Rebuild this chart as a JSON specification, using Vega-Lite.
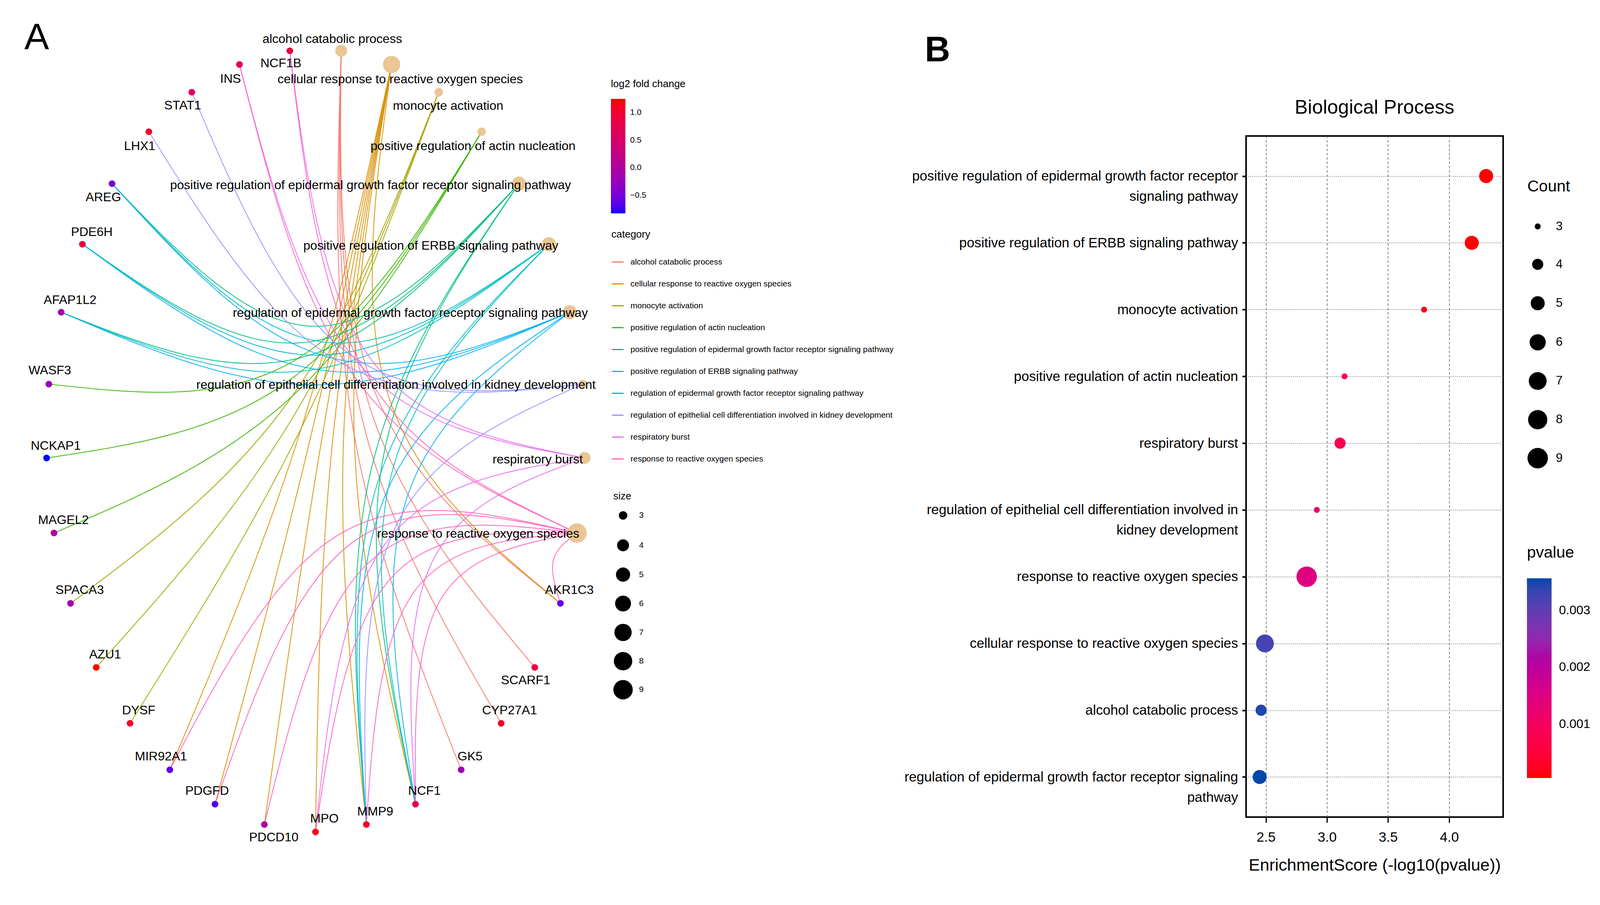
{
"$schema": "https://vega.github.io/schema/vega-lite/v6.json",
"width": 658,
"height": 1743,
"autosize": {"type": "none"},
"padding": {"left": 3190, "top": 348, "right": 268, "bottom": 225},
"background": "white",
"config": {
  "font": "Liberation Sans",
  "view": {"stroke": "black", "strokeWidth": 4},
  "legend": {"titleFontWeight": "normal", "titleColor": "black", "labelColor": "black", "labelLimit": 3000, "titleLimit": 3000, "labelOverlap": false},
  "axis": {"labelColor": "black", "titleColor": "black", "titleFontWeight": "normal"}
},
"datasets": {
  "cats": [
    {"code": "ALC", "name": "alcohol catabolic process", "x": 1386, "y": 130, "count": 4, "lx": 1350, "ly": 100},
    {"code": "CEL", "name": "cellular response to reactive oxygen species", "x": 1590, "y": 165, "count": 7, "lx": 1625, "ly": 203},
    {"code": "MON", "name": "monocyte activation", "x": 1781, "y": 236, "count": 3, "lx": 1819, "ly": 271},
    {"code": "ACT", "name": "positive regulation of actin nucleation", "x": 1955, "y": 337, "count": 3, "lx": 1920, "ly": 374},
    {"code": "PEG", "name": "positive regulation of epidermal growth factor receptor signaling pathway", "x": 2106, "y": 470, "count": 5, "lx": 1505, "ly": 474},
    {"code": "ERB", "name": "positive regulation of ERBB signaling pathway", "x": 2227, "y": 625, "count": 5, "lx": 1749, "ly": 629},
    {"code": "REG", "name": "regulation of epidermal growth factor receptor signaling pathway", "x": 2312, "y": 799, "count": 5, "lx": 1666, "ly": 801},
    {"code": "KID", "name": "regulation of epithelial cell differentiation involved in kidney development", "x": 2364, "y": 983, "count": 3, "lx": 1608, "ly": 985},
    {"code": "RES", "name": "respiratory burst", "x": 2372, "y": 1172, "count": 4, "lx": 2182, "ly": 1176},
    {"code": "ROS", "name": "response to reactive oxygen species", "x": 2341, "y": 1364, "count": 9, "lx": 1941, "ly": 1366}
  ],
  "genes": [
    {"name": "NCF1B", "x": 1178, "y": 130, "fc": 0.85, "lx": 1142, "ly": 162},
    {"name": "INS", "x": 974, "y": 165, "fc": 0.65, "lx": 938, "ly": 202},
    {"name": "STAT1", "x": 781, "y": 236, "fc": 0.6, "lx": 744, "ly": 270},
    {"name": "LHX1", "x": 607, "y": 337, "fc": 0.95, "lx": 570, "ly": 374},
    {"name": "AREG", "x": 458, "y": 470, "fc": -0.45, "lx": 423, "ly": 505},
    {"name": "PDE6H", "x": 338, "y": 625, "fc": 0.9, "lx": 376, "ly": 594},
    {"name": "AFAP1L2", "x": 252, "y": 799, "fc": -0.1, "lx": 288, "ly": 768},
    {"name": "WASF3", "x": 202, "y": 983, "fc": -0.2, "lx": 206, "ly": 948},
    {"name": "NCKAP1", "x": 193, "y": 1172, "fc": -0.83, "lx": 230, "ly": 1141},
    {"name": "MAGEL2", "x": 223, "y": 1364, "fc": -0.05, "lx": 261, "ly": 1331},
    {"name": "SPACA3", "x": 290, "y": 1544, "fc": -0.1, "lx": 327, "ly": 1510},
    {"name": "AZU1", "x": 394, "y": 1708, "fc": 1.25, "lx": 430, "ly": 1675},
    {"name": "DYSF", "x": 531, "y": 1851, "fc": 1.0, "lx": 566, "ly": 1818},
    {"name": "MIR92A1", "x": 692, "y": 1970, "fc": -0.65, "lx": 656, "ly": 1936},
    {"name": "PDGFD", "x": 875, "y": 2058, "fc": -0.7, "lx": 843, "ly": 2024},
    {"name": "PDCD10", "x": 1075, "y": 2110, "fc": 0.0, "lx": 1113, "ly": 2143},
    {"name": "MPO", "x": 1282, "y": 2129, "fc": 1.15, "lx": 1318, "ly": 2095},
    {"name": "MMP9", "x": 1488, "y": 2110, "fc": 1.05, "lx": 1524, "ly": 2077},
    {"name": "NCF1", "x": 1687, "y": 2058, "fc": 0.7, "lx": 1723, "ly": 2024},
    {"name": "GK5", "x": 1872, "y": 1970, "fc": -0.2, "lx": 1908, "ly": 1936},
    {"name": "CYP27A1", "x": 2034, "y": 1851, "fc": 1.05, "lx": 2068, "ly": 1818},
    {"name": "SCARF1", "x": 2170, "y": 1708, "fc": 0.85, "lx": 2133, "ly": 1741},
    {"name": "AKR1C3", "x": 2274, "y": 1544, "fc": -0.6, "lx": 2310, "ly": 1510}
  ],
  "edges": [
    {"e": 1, "c": "ALC", "i": 0, "x": 2274, "y": 1544}, {"e": 1, "c": "ALC", "i": 1, "x": 1522, "y": 1002}, {"e": 1, "c": "ALC", "i": 2, "x": 1386, "y": 130},
    {"e": 2, "c": "ALC", "i": 0, "x": 2170, "y": 1708}, {"e": 2, "c": "ALC", "i": 1, "x": 1500, "y": 1038}, {"e": 2, "c": "ALC", "i": 2, "x": 1386, "y": 130},
    {"e": 3, "c": "ALC", "i": 0, "x": 2034, "y": 1851}, {"e": 3, "c": "ALC", "i": 1, "x": 1470, "y": 1069}, {"e": 3, "c": "ALC", "i": 2, "x": 1386, "y": 130},
    {"e": 4, "c": "ALC", "i": 0, "x": 1872, "y": 1970}, {"e": 4, "c": "ALC", "i": 1, "x": 1434, "y": 1095}, {"e": 4, "c": "ALC", "i": 2, "x": 1386, "y": 130},
    {"e": 5, "c": "CEL", "i": 0, "x": 692, "y": 1970}, {"e": 5, "c": "CEL", "i": 1, "x": 1221, "y": 1103}, {"e": 5, "c": "CEL", "i": 2, "x": 1590, "y": 165},
    {"e": 6, "c": "CEL", "i": 0, "x": 875, "y": 2058}, {"e": 6, "c": "CEL", "i": 1, "x": 1261, "y": 1122}, {"e": 6, "c": "CEL", "i": 2, "x": 1590, "y": 165},
    {"e": 7, "c": "CEL", "i": 0, "x": 1075, "y": 2110}, {"e": 7, "c": "CEL", "i": 1, "x": 1305, "y": 1133}, {"e": 7, "c": "CEL", "i": 2, "x": 1590, "y": 165},
    {"e": 8, "c": "CEL", "i": 0, "x": 1282, "y": 2129}, {"e": 8, "c": "CEL", "i": 1, "x": 1350, "y": 1137}, {"e": 8, "c": "CEL", "i": 2, "x": 1590, "y": 165},
    {"e": 9, "c": "CEL", "i": 0, "x": 1488, "y": 2110}, {"e": 9, "c": "CEL", "i": 1, "x": 1395, "y": 1133}, {"e": 9, "c": "CEL", "i": 2, "x": 1590, "y": 165},
    {"e": 10, "c": "CEL", "i": 0, "x": 1687, "y": 2058}, {"e": 10, "c": "CEL", "i": 1, "x": 1439, "y": 1122}, {"e": 10, "c": "CEL", "i": 2, "x": 1590, "y": 165},
    {"e": 11, "c": "CEL", "i": 0, "x": 2274, "y": 1544}, {"e": 11, "c": "CEL", "i": 1, "x": 1574, "y": 1007}, {"e": 11, "c": "CEL", "i": 2, "x": 1590, "y": 165},
    {"e": 12, "c": "MON", "i": 0, "x": 290, "y": 1544}, {"e": 12, "c": "MON", "i": 1, "x": 1175, "y": 1025}, {"e": 12, "c": "MON", "i": 2, "x": 1781, "y": 236},
    {"e": 13, "c": "MON", "i": 0, "x": 394, "y": 1708}, {"e": 13, "c": "MON", "i": 1, "x": 1197, "y": 1061}, {"e": 13, "c": "MON", "i": 2, "x": 1781, "y": 236},
    {"e": 14, "c": "MON", "i": 0, "x": 531, "y": 1851}, {"e": 14, "c": "MON", "i": 1, "x": 1227, "y": 1092}, {"e": 14, "c": "MON", "i": 2, "x": 1781, "y": 236},
    {"e": 15, "c": "ACT", "i": 0, "x": 202, "y": 983}, {"e": 15, "c": "ACT", "i": 1, "x": 1193, "y": 924}, {"e": 15, "c": "ACT", "i": 2, "x": 1955, "y": 337},
    {"e": 16, "c": "ACT", "i": 0, "x": 193, "y": 1172}, {"e": 16, "c": "ACT", "i": 1, "x": 1192, "y": 966}, {"e": 16, "c": "ACT", "i": 2, "x": 1955, "y": 337},
    {"e": 17, "c": "ACT", "i": 0, "x": 223, "y": 1364}, {"e": 17, "c": "ACT", "i": 1, "x": 1198, "y": 1008}, {"e": 17, "c": "ACT", "i": 2, "x": 1955, "y": 337},
    {"e": 18, "c": "PEG", "i": 0, "x": 458, "y": 470}, {"e": 18, "c": "PEG", "i": 1, "x": 1283, "y": 835}, {"e": 18, "c": "PEG", "i": 2, "x": 2106, "y": 470},
    {"e": 19, "c": "PEG", "i": 0, "x": 338, "y": 625}, {"e": 19, "c": "PEG", "i": 1, "x": 1256, "y": 875}, {"e": 19, "c": "PEG", "i": 2, "x": 2106, "y": 470},
    {"e": 20, "c": "PEG", "i": 0, "x": 252, "y": 799}, {"e": 20, "c": "PEG", "i": 1, "x": 1237, "y": 913}, {"e": 20, "c": "PEG", "i": 2, "x": 2106, "y": 470},
    {"e": 21, "c": "PEG", "i": 0, "x": 1488, "y": 2110}, {"e": 21, "c": "PEG", "i": 1, "x": 1508, "y": 1200}, {"e": 21, "c": "PEG", "i": 2, "x": 2106, "y": 470},
    {"e": 22, "c": "PEG", "i": 0, "x": 1687, "y": 2058}, {"e": 22, "c": "PEG", "i": 1, "x": 1551, "y": 1189}, {"e": 22, "c": "PEG", "i": 2, "x": 2106, "y": 470},
    {"e": 23, "c": "ERB", "i": 0, "x": 458, "y": 470}, {"e": 23, "c": "ERB", "i": 1, "x": 1309, "y": 875}, {"e": 23, "c": "ERB", "i": 2, "x": 2227, "y": 625},
    {"e": 24, "c": "ERB", "i": 0, "x": 338, "y": 625}, {"e": 24, "c": "ERB", "i": 1, "x": 1283, "y": 909}, {"e": 24, "c": "ERB", "i": 2, "x": 2227, "y": 625},
    {"e": 25, "c": "ERB", "i": 0, "x": 252, "y": 799}, {"e": 25, "c": "ERB", "i": 1, "x": 1264, "y": 947}, {"e": 25, "c": "ERB", "i": 2, "x": 2227, "y": 625},
    {"e": 26, "c": "ERB", "i": 0, "x": 1488, "y": 2110}, {"e": 26, "c": "ERB", "i": 1, "x": 1534, "y": 1234}, {"e": 26, "c": "ERB", "i": 2, "x": 2227, "y": 625},
    {"e": 27, "c": "ERB", "i": 0, "x": 1687, "y": 2058}, {"e": 27, "c": "ERB", "i": 1, "x": 1585, "y": 1225}, {"e": 27, "c": "ERB", "i": 2, "x": 2227, "y": 625},
    {"e": 28, "c": "REG", "i": 0, "x": 458, "y": 470}, {"e": 28, "c": "REG", "i": 1, "x": 1328, "y": 913}, {"e": 28, "c": "REG", "i": 2, "x": 2312, "y": 799},
    {"e": 29, "c": "REG", "i": 0, "x": 338, "y": 625}, {"e": 29, "c": "REG", "i": 1, "x": 1301, "y": 947}, {"e": 29, "c": "REG", "i": 2, "x": 2312, "y": 799},
    {"e": 30, "c": "REG", "i": 0, "x": 252, "y": 799}, {"e": 30, "c": "REG", "i": 1, "x": 1283, "y": 985}, {"e": 30, "c": "REG", "i": 2, "x": 2312, "y": 799},
    {"e": 31, "c": "REG", "i": 0, "x": 1488, "y": 2110}, {"e": 31, "c": "REG", "i": 1, "x": 1560, "y": 1275}, {"e": 31, "c": "REG", "i": 2, "x": 2312, "y": 799},
    {"e": 32, "c": "REG", "i": 0, "x": 1687, "y": 2058}, {"e": 32, "c": "REG", "i": 1, "x": 1648, "y": 1282}, {"e": 32, "c": "REG", "i": 2, "x": 2312, "y": 799},
    {"e": 33, "c": "KID", "i": 0, "x": 781, "y": 236}, {"e": 33, "c": "KID", "i": 1, "x": 1410, "y": 902}, {"e": 33, "c": "KID", "i": 2, "x": 2364, "y": 983},
    {"e": 34, "c": "KID", "i": 0, "x": 607, "y": 337}, {"e": 34, "c": "KID", "i": 1, "x": 1372, "y": 924}, {"e": 34, "c": "KID", "i": 2, "x": 2364, "y": 983},
    {"e": 35, "c": "KID", "i": 0, "x": 1488, "y": 2110}, {"e": 35, "c": "KID", "i": 1, "x": 1611, "y": 1342}, {"e": 35, "c": "KID", "i": 2, "x": 2364, "y": 983},
    {"e": 36, "c": "RES", "i": 0, "x": 974, "y": 165}, {"e": 36, "c": "RES", "i": 1, "x": 1454, "y": 928}, {"e": 36, "c": "RES", "i": 2, "x": 2372, "y": 1172},
    {"e": 37, "c": "RES", "i": 0, "x": 1178, "y": 130}, {"e": 37, "c": "RES", "i": 1, "x": 1503, "y": 916}, {"e": 37, "c": "RES", "i": 2, "x": 2372, "y": 1172},
    {"e": 38, "c": "RES", "i": 0, "x": 1687, "y": 2058}, {"e": 38, "c": "RES", "i": 1, "x": 1755, "y": 1437}, {"e": 38, "c": "RES", "i": 2, "x": 2372, "y": 1172},
    {"e": 39, "c": "RES", "i": 0, "x": 1282, "y": 2129}, {"e": 39, "c": "RES", "i": 1, "x": 1560, "y": 1395}, {"e": 39, "c": "RES", "i": 2, "x": 2372, "y": 1172},
    {"e": 40, "c": "ROS", "i": 0, "x": 692, "y": 1970}, {"e": 40, "c": "ROS", "i": 1, "x": 1385, "y": 1365}, {"e": 40, "c": "ROS", "i": 2, "x": 2341, "y": 1364},
    {"e": 41, "c": "ROS", "i": 0, "x": 875, "y": 2058}, {"e": 41, "c": "ROS", "i": 1, "x": 1428, "y": 1390}, {"e": 41, "c": "ROS", "i": 2, "x": 2341, "y": 1364},
    {"e": 42, "c": "ROS", "i": 0, "x": 1075, "y": 2110}, {"e": 42, "c": "ROS", "i": 1, "x": 1499, "y": 1439}, {"e": 42, "c": "ROS", "i": 2, "x": 2341, "y": 1364},
    {"e": 43, "c": "ROS", "i": 0, "x": 1282, "y": 2129}, {"e": 43, "c": "ROS", "i": 1, "x": 1584, "y": 1482}, {"e": 43, "c": "ROS", "i": 2, "x": 2341, "y": 1364},
    {"e": 44, "c": "ROS", "i": 0, "x": 1488, "y": 2110}, {"e": 44, "c": "ROS", "i": 1, "x": 1682, "y": 1514}, {"e": 44, "c": "ROS", "i": 2, "x": 2341, "y": 1364},
    {"e": 45, "c": "ROS", "i": 0, "x": 1687, "y": 2058}, {"e": 45, "c": "ROS", "i": 1, "x": 1790, "y": 1533}, {"e": 45, "c": "ROS", "i": 2, "x": 2341, "y": 1364},
    {"e": 46, "c": "ROS", "i": 0, "x": 2274, "y": 1544}, {"e": 46, "c": "ROS", "i": 1, "x": 2245, "y": 1434}, {"e": 46, "c": "ROS", "i": 2, "x": 2341, "y": 1364},
    {"e": 47, "c": "ROS", "i": 0, "x": 974, "y": 165}, {"e": 47, "c": "ROS", "i": 1, "x": 1447, "y": 970}, {"e": 47, "c": "ROS", "i": 2, "x": 2341, "y": 1364},
    {"e": 48, "c": "ROS", "i": 0, "x": 1178, "y": 130}, {"e": 48, "c": "ROS", "i": 1, "x": 1491, "y": 962}, {"e": 48, "c": "ROS", "i": 2, "x": 2341, "y": 1364}
  ],
  "terms": [
    {"term": "positive regulation of epidermal growth factor receptor signaling pathway", "score": 4.303, "pvalue": 0.00005, "count": 5},
    {"term": "positive regulation of ERBB signaling pathway", "score": 4.185, "pvalue": 0.000065, "count": 5},
    {"term": "monocyte activation", "score": 3.795, "pvalue": 0.00016, "count": 3},
    {"term": "positive regulation of actin nucleation", "score": 3.144, "pvalue": 0.00072, "count": 3},
    {"term": "respiratory burst", "score": 3.107, "pvalue": 0.00078, "count": 4},
    {"term": "regulation of epithelial cell differentiation involved in kidney development", "score": 2.917, "pvalue": 0.00121, "count": 3},
    {"term": "response to reactive oxygen species", "score": 2.834, "pvalue": 0.00147, "count": 9},
    {"term": "cellular response to reactive oxygen species", "score": 2.492, "pvalue": 0.00322, "count": 7},
    {"term": "alcohol catabolic process", "score": 2.461, "pvalue": 0.00346, "count": 4},
    {"term": "regulation of epidermal growth factor receptor signaling pathway", "score": 2.449, "pvalue": 0.00356, "count": 5}
  ]
},
"layer": [
  {
    "layer": [
      {
        "data": {"name": "edges"},
        "transform": [{"lookup": "c", "from": {"data": {"name": "cats"}, "key": "code", "fields": ["name"]}, "as": ["cname"]}],
        "mark": {"type": "line", "interpolate": "natural", "strokeWidth": 2.2, "opacity": 0.9},
        "encoding": {
          "x": {"field": "x", "type": "quantitative", "scale": {"domain": [5051, 6092], "nice": false, "zero": false}, "axis": null},
          "y": {"field": "y", "type": "quantitative", "scale": {"domain": [348, 2091], "nice": false, "zero": false, "reverse": true}, "axis": null},
          "detail": {"field": "e", "type": "nominal"},
          "order": {"field": "i", "type": "quantitative"},
          "stroke": {
            "field": "cname", "type": "nominal",
            "scale": {
              "domain": ["alcohol catabolic process", "cellular response to reactive oxygen species", "monocyte activation", "positive regulation of actin nucleation", "positive regulation of epidermal growth factor receptor signaling pathway", "positive regulation of ERBB signaling pathway", "regulation of epidermal growth factor receptor signaling pathway", "regulation of epithelial cell differentiation involved in kidney development", "respiratory burst", "response to reactive oxygen species"],
              "range": ["#F8766D", "#D89000", "#A3A500", "#39B600", "#00BF7D", "#00BFC4", "#00B0F6", "#9590FF", "#E76BF3", "#FF62BC"]
            },
            "legend": {"title": "category", "orient": "none", "legendX": -1625, "legendY": 239, "symbolType": "stroke", "symbolSize": 900, "symbolStrokeWidth": 3, "symbolOpacity": 1, "labelFontSize": 21, "titleFontSize": 26, "titlePadding": 41, "rowPadding": 29, "labelOffset": 16}
          }
        }
      },
      {
        "data": {"name": "cats"},
        "mark": {"type": "circle", "opacity": 1, "strokeWidth": 0},
        "encoding": {
          "x": {"field": "x", "type": "quantitative", "scale": {"domain": [5051, 6092], "nice": false, "zero": false}, "axis": null},
          "y": {"field": "y", "type": "quantitative", "scale": {"domain": [348, 2091], "nice": false, "zero": false, "reverse": true}, "axis": null},
          "color": {"field": "code", "type": "nominal", "scale": {"range": ["#EBC594"]}, "legend": null},
          "size": {
            "field": "count", "type": "quantitative",
            "scale": {"type": "pow", "exponent": 0.3, "domain": [3, 9], "range": [470, 2475], "zero": false, "nice": false},
            "legend": {"title": "size", "orient": "none", "legendX": -1620, "legendY": 909, "values": [3, 4, 5, 6, 7, 8, 9], "format": "d", "gridAlign": "all", "titleFontSize": 26, "labelFontSize": 21, "titlePadding": 25, "rowPadding": 22, "labelOffset": 16, "symbolType": "circle", "symbolFillColor": "black", "symbolStrokeWidth": 0, "symbolOpacity": 1}
          }
        }
      },
      {
        "data": {"name": "genes"},
        "mark": {"type": "circle", "opacity": 1, "size": 297, "strokeWidth": 0},
        "encoding": {
          "x": {"field": "x", "type": "quantitative", "scale": {"domain": [5051, 6092], "nice": false, "zero": false}, "axis": null},
          "y": {"field": "y", "type": "quantitative", "scale": {"domain": [348, 2091], "nice": false, "zero": false, "reverse": true}, "axis": null},
          "fill": {
            "field": "fc", "type": "quantitative",
            "scale": {"domain": [-0.83, 1.25], "range": ["#0000FF", "#FF0000"], "interpolate": "lab", "nice": false, "zero": false},
            "legend": {"title": "log2 fold change", "orient": "none", "legendX": -1626, "legendY": -146, "direction": "vertical", "gradientLength": 293, "gradientThickness": 37, "gradientStrokeWidth": 0, "titleFontSize": 26, "labelFontSize": 21, "titlePadding": 25, "labelOffset": 12, "values": [-0.5, 0, 0.5, 1], "format": ".1f"}
          }
        }
      },
      {
        "data": {"name": "genes"},
        "mark": {"type": "text", "fontSize": 32, "align": "center", "baseline": "middle", "color": "black"},
        "encoding": {
          "x": {"field": "lx", "type": "quantitative", "scale": {"domain": [5051, 6092], "nice": false, "zero": false}, "axis": null},
          "y": {"field": "ly", "type": "quantitative", "scale": {"domain": [348, 2091], "nice": false, "zero": false, "reverse": true}, "axis": null},
          "text": {"field": "name", "type": "nominal"}
        }
      },
      {
        "data": {"name": "cats"},
        "mark": {"type": "text", "fontSize": 32, "align": "center", "baseline": "middle", "color": "black"},
        "encoding": {
          "x": {"field": "lx", "type": "quantitative", "scale": {"domain": [5051, 6092], "nice": false, "zero": false}, "axis": null},
          "y": {"field": "ly", "type": "quantitative", "scale": {"domain": [348, 2091], "nice": false, "zero": false, "reverse": true}, "axis": null},
          "text": {"field": "name", "type": "nominal"}
        }
      },
      {
        "data": {"values": [{"t": "A", "x": 153, "y": 97}]},
        "mark": {"type": "text", "fontSize": 95, "align": "center", "baseline": "middle", "color": "black"},
        "encoding": {
          "x": {"field": "x", "type": "quantitative", "scale": {"domain": [5051, 6092], "nice": false, "zero": false}, "axis": null},
          "y": {"field": "y", "type": "quantitative", "scale": {"domain": [348, 2091], "nice": false, "zero": false, "reverse": true}, "axis": null},
          "text": {"field": "t", "type": "nominal"}
        }
      },
      {
        "data": {"values": [{"t": "B", "x": 3801, "y": 130}]},
        "mark": {"type": "text", "fontSize": 90, "fontWeight": "bold", "align": "center", "baseline": "middle", "color": "black"},
        "encoding": {
          "x": {"field": "x", "type": "quantitative", "scale": {"domain": [5051, 6092], "nice": false, "zero": false}, "axis": null},
          "y": {"field": "y", "type": "quantitative", "scale": {"domain": [348, 2091], "nice": false, "zero": false, "reverse": true}, "axis": null},
          "text": {"field": "t", "type": "nominal"}
        }
      },
      {
        "data": {"values": [{"t": "Biological Process", "x": 5571, "y": 276}]},
        "mark": {"type": "text", "fontSize": 50, "align": "center", "baseline": "middle", "color": "black"},
        "encoding": {
          "x": {"field": "x", "type": "quantitative", "scale": {"domain": [5051, 6092], "nice": false, "zero": false}, "axis": null},
          "y": {"field": "y", "type": "quantitative", "scale": {"domain": [348, 2091], "nice": false, "zero": false, "reverse": true}, "axis": null},
          "text": {"field": "t", "type": "nominal"}
        }
      }
    ]
  },
  {
    "data": {"name": "terms"},
    "mark": {"type": "circle", "opacity": 1, "strokeWidth": 0},
    "encoding": {
      "x": {
        "field": "score", "type": "quantitative",
        "scale": {"domain": [2.338, 4.442], "nice": false, "zero": false},
        "axis": {"title": "EnrichmentScore (-log10(pvalue))", "titleFontSize": 43, "titlePadding": 33, "labelFontSize": 35, "labelPadding": 20, "values": [2.5, 3, 3.5, 4], "format": ".1f", "tickSize": 14, "tickWidth": 3, "tickColor": "black", "domain": false, "grid": true, "gridDash": [6, 5], "gridColor": "#555555", "gridWidth": 1.5, "labelFlush": false}
      },
      "y": {
        "field": "term", "type": "nominal",
        "scale": {"type": "point", "padding": 0.6, "domain": ["positive regulation of epidermal growth factor receptor signaling pathway", "positive regulation of ERBB signaling pathway", "monocyte activation", "positive regulation of actin nucleation", "respiratory burst", "regulation of epithelial cell differentiation involved in kidney development", "response to reactive oxygen species", "cellular response to reactive oxygen species", "alcohol catabolic process", "regulation of epidermal growth factor receptor signaling pathway"]},
        "axis": {"title": null, "labelFontSize": 35, "labelLimit": 3000, "labelPadding": 11, "labelLineHeight": 52, "tickSize": 10, "tickWidth": 4, "tickColor": "black", "domain": false, "grid": true, "gridDash": [2, 3], "gridColor": "#555555", "gridWidth": 1.5,
          "labelExpr": "datum.value == 'positive regulation of epidermal growth factor receptor signaling pathway' ? ['positive regulation of epidermal growth factor receptor', 'signaling pathway'] : datum.value == 'regulation of epithelial cell differentiation involved in kidney development' ? ['regulation of epithelial cell differentiation involved in', 'kidney development'] : datum.value == 'regulation of epidermal growth factor receptor signaling pathway' ? ['regulation of epidermal growth factor receptor signaling', 'pathway'] : datum.label"}
      },
      "color": {
        "field": "pvalue", "type": "quantitative",
        "scale": {"domain": [0.00005, 0.00356], "range": ["#FF0000", "#0047AB"], "interpolate": "hcl", "nice": false, "zero": false},
        "legend": {"title": "pvalue", "orient": "none", "legendX": 719, "legendY": 1047, "direction": "vertical", "gradientLength": 511, "gradientThickness": 63, "gradientStrokeWidth": 0, "titleFontSize": 41, "labelFontSize": 32, "titlePadding": 44, "labelOffset": 19, "values": [0.001, 0.002, 0.003], "format": ".3f"}
      },
      "size": {
        "field": "count", "type": "quantitative",
        "scale": {"type": "pow", "exponent": 0.3, "domain": [3, 9], "range": [234, 2736], "zero": false, "nice": false},
        "legend": {"title": "Count", "orient": "none", "legendX": 720, "legendY": 110, "values": [3, 4, 5, 6, 7, 8, 9], "format": "d", "gridAlign": "all", "titleFontSize": 41, "labelFontSize": 31, "titlePadding": 65, "rowPadding": 43, "labelOffset": 20, "symbolType": "circle", "symbolFillColor": "black", "symbolStrokeWidth": 0, "symbolOpacity": 1}
      }
    }
  }
],
"resolve": {"scale": {"x": "independent", "y": "independent", "size": "independent", "color": "independent"}}
}
